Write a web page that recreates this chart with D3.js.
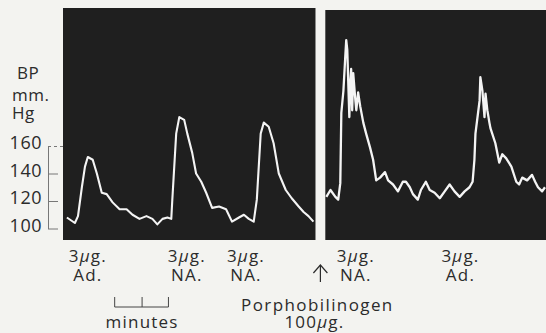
<!DOCTYPE html>
<html><head><meta charset="utf-8">
<script src="https://cdn.jsdelivr.net/npm/d3@7"></script>
<style>
html,body{margin:0;padding:0;background:#f3f3f0;}
svg{display:block;}
text{font-family:"Open Sans",sans-serif;fill:#2b2b2b;}
</style></head><body>
<script>
// ---- data (time in minutes, BP in mm Hg) ----
const leftTime = [0.15,0.46,0.58,0.73,0.85,0.96,1.15,1.31,1.50,1.69,1.92,2.19,2.46,2.69,2.96,3.23,3.46,3.65,3.85,4.04,4.19,4.23,4.38,4.50,4.69,4.81,5.00,5.15,5.35,5.54,5.77,6.04,6.31,6.54,6.81,7.00,7.19,7.38,7.50,7.65,7.77,7.96,8.15,8.35,8.62,8.85,9.12,9.31,9.50,9.69];
const leftBP   = [108,104,109,130,145,152,150,140,126,125,119,114,114,110,107,109,107,103,107,108,107,121,169,181,179,169,155,140,134,126,115,116,114,105,108,110,107,105,121,169,177,174,162,140,128,122,116,112,109,105];
const rightTime = [10.19,10.35,10.54,10.65,10.73,10.77,10.85,10.92,10.96,11.00,11.08,11.12,11.15,11.19,11.23,11.31,11.35,11.42,11.50,11.62,11.73,11.88,12.00,12.12,12.27,12.46,12.58,12.77,12.96,13.15,13.27,13.42,13.54,13.73,13.85,14.04,14.19,14.38,14.58,14.77,14.96,15.15,15.35,15.54,15.73,15.85,15.92,15.96,16.12,16.15,16.23,16.31,16.35,16.42,16.50,16.54,16.73,16.88,17.00,17.15,17.35,17.54,17.65,17.77,17.96,18.15,18.27,18.38,18.54,18.65];
const rightBP   = [123,128,123,121,133,184,200,224,237,230,181,207,216,186,213,194,186,199,189,177,169,159,150,135,137,141,135,132,127,134,134,130,125,121,128,134,128,126,122,127,132,127,123,127,130,134,150,169,193,210,200,181,198,186,177,173,162,148,154,151,145,134,132,137,135,139,134,130,127,130];
const panelStart = [0, 10.15];
const panelEnd   = [9.77, 18.69];
const yTicks = [100,120,140,160];
const doseTime = [0.96, 4.79, 7.08, 11.33, 15.38];
const doseLine1 = ["3μg.","3μg.","3μg.","3μg.","3μg."];
const doseLine2 = ["Ad.","NA.","NA.","NA.","Ad."];
const pbgTime = 9.96;
const pbgLabel = ["Porphobilinogen","100μg."];
const scaleBar = [2.0, 3.06, 4.08];
const yLabel = ["BP","mm.","Hg"];

// ---- layout ----
const W = 546, H = 333, FS = 18, FB = 17;
const svg = d3.select("body").append("svg").attr("width",W).attr("height",H);
const x = d3.scaleLinear().domain([0,18.69]).range([63,546]);
const y = d3.scaleLinear().domain([100,160]).range([228.5,146]);

const panelTop = [8,10];
svg.selectAll("rect.panel").data(panelStart).enter().append("rect")
  .attr("class","panel")
  .attr("x",d=>x(d)).attr("y",(d,i)=>panelTop[i])
  .attr("width",(d,i)=>x(panelEnd[i])-x(d)).attr("height",(d,i)=>240-panelTop[i])
  .attr("fill","#1f1f1f");

const line = d3.line().x(d=>x(d[0])).y(d=>y(d[1]));
const traces = [d3.zip(leftTime,leftBP), d3.zip(rightTime,rightBP)];
svg.selectAll("path.trace").data(traces).enter().append("path")
  .attr("class","trace").attr("d",line)
  .attr("fill","none").attr("stroke","#f4f4f4").attr("stroke-width",(d,i)=>i?2.3:2.1)
  .attr("stroke-linejoin","round");

// y axis
const ax = svg.append("g").attr("transform","translate(48,0)")
  .call(d3.axisLeft(y).tickValues(yTicks).tickSizeInner(-10).tickSizeOuter(0).tickPadding(6));
ax.select(".domain").attr("stroke","#777").attr("stroke-width",1);
ax.selectAll(".tick line").attr("stroke","#777");
ax.selectAll(".tick").filter(d=>d===160).select("line").attr("x2",15).attr("stroke-dasharray","3,3");
ax.selectAll(".tick text").attr("font-size",FS).attr("fill","#2b2b2b").attr("font-family","Open Sans")
  .attr("letter-spacing",0.5).attr("dy","0.15em");

svg.selectAll("text.ylab").data(yLabel).enter().append("text")
  .attr("x",(d,i)=>i===0?17:12).attr("y",(d,i)=>[79,101,119][i])
  .attr("font-size",FS-1).attr("letter-spacing",0.5).text(d=>d);

function mu(t,s){ // italicise the Greek mu only
  const k = s.indexOf("μ");
  t.append("tspan").text(s.slice(0,k));
  t.append("tspan").attr("font-style","italic").text("μ");
  t.append("tspan").text(s.slice(k+1));
}

// dose labels
const dg = svg.selectAll("g.dose").data(doseTime).enter().append("g")
  .attr("transform",d=>`translate(${x(d)},0)`);
dg.append("text").attr("y",262).attr("text-anchor","middle").attr("font-size",FB).attr("letter-spacing",1.2)
  .each(function(d,i){ mu(d3.select(this),doseLine1[i]); });
dg.append("text").attr("y",281).attr("text-anchor","middle").attr("font-size",FB).attr("letter-spacing",1.2)
  .text((d,i)=>doseLine2[i]);

// arrow
const a0 = x(pbgTime);
svg.append("line").attr("x1",a0).attr("x2",a0).attr("y1",282).attr("y2",265).attr("stroke","#2b2b2b").attr("stroke-width",1.2);
svg.append("path").attr("d",`M${a0-7},${273}L${a0},${265}L${a0+7},${273}`).attr("fill","none").attr("stroke","#2b2b2b").attr("stroke-width",1.2);
svg.append("text").attr("x",a0-3).attr("y",311).attr("text-anchor","middle").attr("font-size",FB).attr("letter-spacing",1.4).text(pbgLabel[0]);
svg.append("text").attr("x",a0-6).attr("y",328).attr("text-anchor","middle").attr("font-size",FB).attr("letter-spacing",1.2)
  .call(t=>mu(t,pbgLabel[1]));

// minutes scale bar
svg.append("line").attr("x1",x(scaleBar[0])).attr("x2",x(scaleBar[2])).attr("y1",307).attr("y2",307).attr("stroke","#444").attr("stroke-width",1);
svg.selectAll("line.sb").data(scaleBar).enter().append("line")
  .attr("x1",d=>x(d)).attr("x2",d=>x(d)).attr("y1",307).attr("y2",297).attr("stroke","#444").attr("stroke-width",1);
svg.append("text").attr("x",x(scaleBar[1])).attr("y",328).attr("text-anchor","middle").attr("font-size",FB).attr("letter-spacing",1.2).text("minutes");
</script>
</body></html>
